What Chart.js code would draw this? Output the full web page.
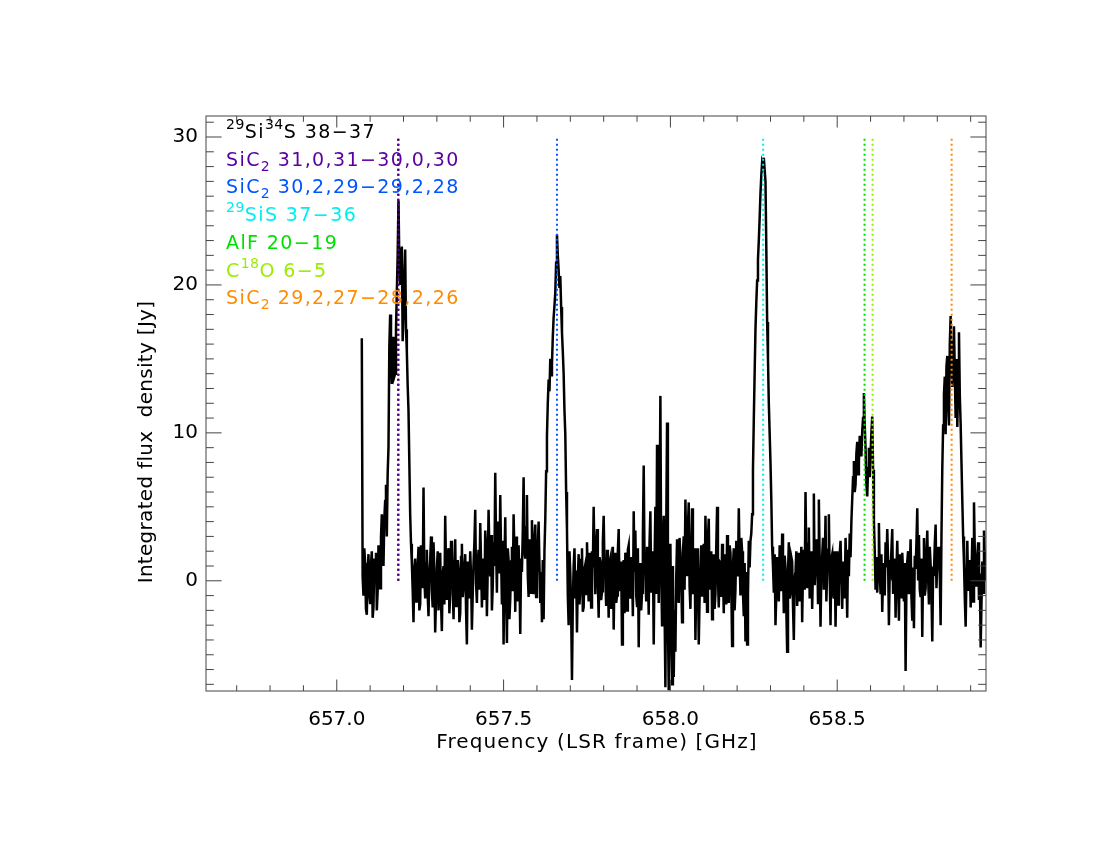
<!DOCTYPE html>
<html>
<head>
<meta charset="utf-8">
<title>Integrated spectrum</title>
<script src="https://cdn.jsdelivr.net/npm/chart.js@4.4.0/dist/chart.umd.min.js"></script>
<style>
  html, body { margin: 0; padding: 0; background: #fff; }
  #wrap { width: 1100px; height: 850px; }
</style>
</head>
<body>
<div id="wrap"><canvas id="spec" width="1100" height="850"></canvas></div>
<script>
// === Spectrum (channel values) ===
const freqStart = 657.075; // GHz, first channel
const chanWidth = 0.0025;  // GHz per channel
const flux = [
  16.4, 0.3, -1.0, 2.2, 1.2, -1.9, -2.3, 0.4, 1.8, -0.8,
  -1.5, 1.1, 2.0, -2.5, -1.8, 1.5, 0.6, 1.9, -2.0, -0.7,
  2.4, 0.1, -0.5, 2.9, 4.5, 3.2, 1.0, 4.2, 5.4, 6.5,
  3.0, 7.2, 9.0, 15.8, 18.0, 14.5, 13.3, 15.2, 16.5, 13.8,
  14.0, 17.0, 19.5, 22.0, 25.7, 21.5, 20.0, 22.4, 22.6, 16.2,
  18.0, 20.5, 22.4, 17.0, 15.5, 13.2, 11.5, 8.0, 4.5, 2.5,
  1.2, -0.6, -2.8, 0.9, 1.5, -1.4, -0.8, 1.0, 2.3, -2.0,
  -1.6, 2.4, 0.9, -0.5, 6.3, 0.2, -1.2, 1.2, 2.1, -1.0,
  -2.4, 0.5, 1.4, 3.0, -0.6, -1.8, 2.6, 0.6, -3.5, -1.2,
  0.8, 2.0, -2.0, 1.1, 1.9, -1.5, -3.4, 0.4, 1.0, -1.6,
  4.4, 0.9, -1.3, 1.7, 2.2, -2.2, -0.9, 2.7, 1.6, -0.3,
  -2.6, 1.2, 2.8, -1.7, -1.0, 1.4, 0.7, -2.8, -2.2, 1.6,
  2.5, -1.1, -0.4, 0.9, 1.8, -2.0, -4.3, 1.3, 0.9, -1.2,
  2.0, 0.3, -3.3, -0.9, 1.2, 2.6, 4.8, -0.2, -1.5, 1.1,
  2.1, -0.6, 3.9, 1.2, -1.8, 0.6, 1.5, -1.3, 3.4, 2.2,
  -2.4, 0.8, 4.8, 1.9, 0.3, 3.1, -2.0, -0.4, 2.6, 1.0,
  7.3, 2.4, -0.8, 4.0, 2.9, 0.5, 5.8, 1.6, -1.6, 2.7,
  -4.3, 0.9, 4.3, -0.5, -4.2, 2.2, 1.4, -2.6, -1.2, 1.3,
  2.3, -0.7, 4.5, 1.8, -2.1, 3.0, 1.0, -1.4, 2.4, 0.2,
  -3.6, 1.5, 0.6, 3.3, 7.0, 2.1, 1.5, 3.6, 5.8, 0.4,
  -1.1, 2.8, 2.0, -0.8, 4.1, 1.7, -0.9, 2.6, 3.8, -1.1,
  0.4, 2.3, 4.0, 1.1, -1.5, 0.6, -2.8, 1.4, -2.6, 2.0,
  4.2, 7.4, 9.8, 12.0, 13.6, 12.8, 15.0, 13.9, 14.6, 16.5,
  17.8, 18.6, 19.5, 21.5, 23.4, 22.0, 21.0, 19.8, 20.6, 18.5,
  16.8, 15.5, 14.0, 11.5, 9.9, 6.0, 3.5, -1.0, -3.0, 2.0,
  0.5, -2.0, -6.7, -1.5, 1.0, 2.2, -1.2, 0.7, -3.5, 0.1,
  1.8, -1.6, -0.6, 1.4, 2.2, -2.1, -1.8, 0.8, 1.1, -0.9,
  2.6, 0.3, -1.4, 1.9, 0.5, -1.8, 2.0, 0.9, 5.0, 1.4,
  -0.9, 2.4, 3.5, 0.0, -2.5, 1.6, 1.3, -1.3, -0.7, 2.6,
  4.4, 1.0, 0.2, -1.7, 2.1, 0.4, -2.5, 1.2, 1.5, -1.9,
  0.0, 2.3, -3.3, 0.5, 1.9, -1.5, -1.0, 2.0, 3.5, -0.7,
  0.6, 1.3, -4.3, -0.3, 1.4, -2.2, 1.9, 0.8, -2.0, 2.1,
  2.4, -0.5, -1.2, 1.6, 0.8, -2.4, 4.7, 0.6, 3.4, -1.0,
  -1.7, 2.2, -4.5, 0.4, 1.2, -2.0, -0.8, 3.0, 7.8, 1.1,
  0.5, -1.4, 2.3, 0.9, -2.3, 2.6, 4.7, -0.8, 0.9, 2.0,
  -4.3, 1.2, 5.0, -0.9, 9.2, 2.4, -1.5, 3.8, 12.5, 0.6,
  -3.0, 2.6, 4.4, -1.8, -7.2, 3.4, 10.7, -2.6, -7.4, -1.0,
  2.5, -3.5, -7.0, 1.0, -6.5, -2.0, -4.8, 0.2, 2.8, -1.0,
  -1.5, 2.9, 1.6, 0.0, -2.8, 1.9, 3.0, -0.6, 5.5, 2.0,
  0.4, 3.6, 5.3, -0.4, -1.9, 1.7, 4.9, -0.9, 1.0, 2.2,
  -4.0, -0.4, 2.2, 0.8, -4.3, -1.2, 0.8, 2.4, -1.0, 0.6,
  2.5, -1.5, 4.4, 1.6, -2.1, 2.8, 4.2, -0.6, 0.3, 2.0,
  -2.6, 0.7, 1.8, -1.9, -0.9, 2.3, 5.0, 0.2, -1.8, 1.3,
  1.2, -1.1, 2.5, 0.5, -2.2, 1.8, 0.7, -1.6, 3.1, 0.9,
  -1.5, 2.4, 1.9, -0.4, -4.4, 1.0, 2.2, -2.0, -0.6, 2.7,
  1.4, 0.3, 4.9, 1.5, -1.0, 2.9, 2.0, -0.8, -2.4, 1.2,
  -4.1, 0.6, -4.3, -1.0, 2.7, 0.9, 2.7, 3.2, 4.5, 7.5,
  10.9, 14.0, 17.0, 18.8, 20.3, 21.7, 23.0, 24.5, 26.2, 27.4,
  28.3, 28.1, 28.6, 27.8, 27.0, 22.5, 17.5, 15.0, 12.0, 10.0,
  8.0, 5.5, 2.3, 1.0, -0.8, 1.8, -3.0, -0.9, 1.6, 0.4,
  -1.4, 2.4, 2.0, -0.7, 3.2, 1.0, -2.2, 1.7, 0.9, -1.9,
  -4.8, 0.5, 2.6, -1.2, -0.8, 1.6, 1.3, -1.7, -4.0, 0.2,
  0.6, 2.0, -1.7, 0.8, 1.9, -1.4, 0.2, 2.3, -2.8, 0.9,
  2.1, -0.6, 6.0, 1.4, -0.5, 2.5, 3.6, -1.2, 0.4, 2.0,
  -1.9, 1.0, 5.9, -0.3, 1.0, 2.8, 2.4, -1.5, 5.5, 1.3,
  -3.1, 0.6, 1.7, 2.9, -0.6, 1.0, 4.4, -1.4, 0.8, 2.1,
  4.5, 0.3, -3.0, 1.5, 1.8, -0.9, -1.2, 2.0, -3.1, 0.4,
  2.0, -1.6, -0.4, 1.8, 2.7, 0.1, -1.9, 1.3, 0.6, -1.2,
  2.9, 0.8, -2.5, 2.1, 0.3, 3.2, 1.6, 4.0, 5.5, 7.0,
  8.1, 6.0, 6.5, 8.6, 9.4, 7.2, 8.0, 9.8, 9.2, 8.4,
  10.1, 11.0, 12.7, 10.5, 8.9, 6.5, 5.7, 7.6, 9.0, 7.0,
  8.6, 10.0, 11.1, 7.5, 4.1, 2.0, -0.6, 1.6, -0.8, 1.0,
  3.9, 0.6, -0.9, 1.8, -2.1, 0.3, 1.2, -1.0, 2.6, 0.9,
  3.5, 1.4, -3.0, 0.7, 0.5, 2.1, 3.5, -0.8, -0.7, 1.5,
  -2.5, 0.6, 2.7, 0.0, -2.7, 1.8, 0.4, -1.2, 1.9, 0.5,
  -1.4, 1.2, -6.1, -0.4, 1.3, 2.0, -0.9, 0.7, 2.8, -1.1,
  -2.7, 0.9, -3.2, 1.7, 0.8, 2.6, 4.9, 0.1, 3.1, -0.6,
  -1.1, 1.5, -3.8, 0.8, 2.9, -1.0, -0.5, 1.9, 3.4, 0.2,
  -1.6, 2.3, 1.1, -0.9, -4.1, 0.7, 0.6, 2.5, 3.8, -0.5,
  1.2, 2.2, 2.3, 0.4, -3.0, 3.0, 7.6, 10.5, 12.6, 13.8,
  9.9, 14.5, 15.2, 12.0, 10.5, 16.0, 17.9, 15.5, 13.1, 16.2,
  17.2, 14.0, 11.0, 15.0, 10.4, 13.5, 16.8, 12.5, 10.6, 8.0,
  5.4, 3.0, 1.2, -1.2, -3.1, 0.5, 2.7, -0.6, -0.5, 1.4,
  -1.8, 0.3, 2.9, -1.4, 5.3, 1.9, 0.8, -0.4, 1.7, 2.6,
  -1.3, 0.5, -4.5, -1.5, 1.3, -0.8, 3.4, 1.2, 0.0, 2.0,
  -1.0
];

// === Line identifications (rest frequencies, GHz) ===
const lineFreqs = [657.184, 657.185, 657.660, 658.278, 658.582, 658.606, 658.843];
const lineColors = ["#000000", "#5a00a0", "#0055ff", "#00eeee", "#00e000", "#99ee00", "#ff8c00"];
const lineTop = 30;
// label pieces: [text, "" | "sup" | "sub"]
const lineLabels = [
  [["29", "sup"], ["Si", ""], ["34", "sup"], ["S 38\u221237", ""]],
  [["SiC", ""], ["2", "sub"], [" 31,0,31\u221230,0,30", ""]],
  [["SiC", ""], ["2", "sub"], [" 30,2,29\u221229,2,28", ""]],
  [["29", "sup"], ["SiS 37\u221236", ""]],
  [["AlF 20\u221219", ""]],
  [["C", ""], ["18", "sup"], ["O 6\u22125", ""]],
  [["SiC", ""], ["2", "sub"], [" 29,2,27\u221228,2,26", ""]]
];

// === Axes ===
const xMin = 656.608, xMax = 658.946;
const yMin = -7.45, yMax = 31.42;
const xTicks = [657.0, 657.5, 658.0, 658.5];
const yTicks = [0, 10, 20, 30];
const xTitle = "Frequency (LSR frame) [GHz]";
const yTitle = "Integrated flux  density [Jy]";

const FONT = '"DejaVu Sans", sans-serif';

// === Frame, inward ticks, titles and line legend ===
const framePlugin = {
  id: "frame",
  afterDatasetsDraw(chart) {
    const { ctx, chartArea: a, scales: { x, y } } = chart;
    ctx.save();
    ctx.strokeStyle = "#444";
    ctx.lineWidth = 1;
    ctx.strokeRect(a.left, a.top, a.right - a.left, a.bottom - a.top);

    const xLen = (a.bottom - a.top) * 0.02;
    const yLen = (a.right - a.left) * 0.02;
    ctx.beginPath();
    // x ticks every 0.1 GHz, major every 0.5
    for (let k = 6567; k <= 6589; k++) {
      const px = x.getPixelForValue(k / 10);
      const len = k % 5 === 0 ? xLen : xLen / 2;
      ctx.moveTo(px, a.bottom); ctx.lineTo(px, a.bottom - len);
      ctx.moveTo(px, a.top); ctx.lineTo(px, a.top + len);
    }
    // y ticks every 1 Jy, major every 10
    for (let v = -7; v <= 31; v++) {
      const py = y.getPixelForValue(v);
      const len = v % 10 === 0 ? yLen : yLen / 2;
      ctx.moveTo(a.left, py); ctx.lineTo(a.left + len, py);
      ctx.moveTo(a.right, py); ctx.lineTo(a.right - len, py);
    }
    ctx.stroke();

    // axis titles
    ctx.fillStyle = "#000";
    ctx.font = "20px " + FONT;
    ctx.textAlign = "center";
    ctx.textBaseline = "middle";
    ctx.letterSpacing = "1.1px";
    ctx.fillText(xTitle, (a.left + a.right) / 2 + 1, 743);
    ctx.letterSpacing = "0.3px";
    ctx.save();
    ctx.translate(147, 442);
    ctx.rotate(-Math.PI / 2);
    ctx.fillText(yTitle, 0, 0);
    ctx.restore();

    // line legend
    ctx.textAlign = "left";
    ctx.textBaseline = "alphabetic";
    lineLabels.forEach((parts, i) => {
      let cx = 226;
      const base = 138 + i * 27.7;
      ctx.fillStyle = lineColors[i];
      parts.forEach(([t, kind]) => {
        ctx.font = (kind ? 14 : 19) + "px " + FONT;
        ctx.letterSpacing = kind ? "0.5px" : "1.4px";
        const dy = kind === "sup" ? -9 : kind === "sub" ? 5 : 0;
        ctx.fillText(t, cx, base + dy);
        cx += ctx.measureText(t).width;
      });
    });
    ctx.letterSpacing = "0px";
    ctx.restore();
  }
};

const spectrum = flux.map((v, i) => ({ x: freqStart + i * chanWidth, y: v }));

const lineSets = lineFreqs.map((f, i) => ({
  data: [{ x: f, y: 0 }, { x: f, y: lineTop }],
  borderColor: lineColors[i],
  borderWidth: 2,
  borderDash: [2, 3],
  pointRadius: 0,
  order: i === 0 ? 0.5 : 0
}));

new Chart(document.getElementById("spec"), {
  type: "line",
  data: {
    datasets: [
      {
        data: spectrum,
        borderColor: "#000",
        borderWidth: 2.5,
        pointRadius: 0,
        tension: 0,
        order: 1
      },
      ...lineSets
    ]
  },
  options: {
    responsive: false,
    animation: false,
    devicePixelRatio: 1,
    layout: { padding: { left: 0, top: 116, right: 114, bottom: 0 } },
    plugins: { legend: { display: false }, tooltip: { enabled: false } },
    scales: {
      x: {
        type: "linear",
        min: xMin,
        max: xMax,
        afterFit: (s) => { s.height = 159; },
        afterBuildTicks: (s) => { s.ticks = xTicks.map((v) => ({ value: v })); },
        grid: { display: false, drawTicks: false },
        border: { display: false },
        ticks: {
          autoSkip: false,
          maxRotation: 0,
          padding: 17,
          color: "#000",
          font: { family: FONT, size: 20 },
          callback: (v) => Number(v).toFixed(1)
        }
      },
      y: {
        type: "linear",
        min: yMin,
        max: yMax,
        afterFit: (s) => { s.width = 206; },
        afterBuildTicks: (s) => { s.ticks = yTicks.map((v) => ({ value: v })); },
        grid: { display: false, drawTicks: false },
        border: { display: false },
        ticks: {
          padding: 8,
          color: "#000",
          font: { family: FONT, size: 20 },
          callback: (v) => String(v)
        }
      }
    }
  },
  plugins: [framePlugin]
});
</script>
</body>
</html>
